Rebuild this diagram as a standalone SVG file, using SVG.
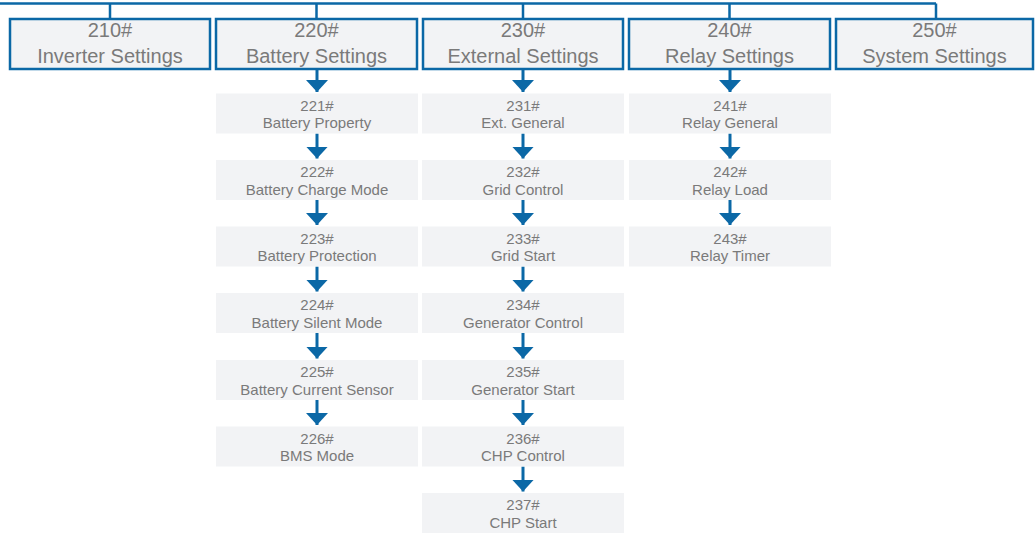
<svg xmlns="http://www.w3.org/2000/svg" width="1036" height="533" viewBox="0 0 1036 533">
<style>
.hb{fill:#f2f3f5;stroke:#0b68a6;stroke-width:2.5}
.sb{fill:#f2f3f5}
.ht{font-family:"Liberation Sans",Arial,sans-serif;font-size:20px;fill:#7a7a7a;text-anchor:middle}
.st{font-family:"Liberation Sans",Arial,sans-serif;font-size:15px;fill:#7a7a7a;text-anchor:middle}
.ln{stroke:#0b68a6;stroke-width:2.5;fill:none}
.ar{stroke:#0b68a6;stroke-width:3;fill:none;marker-end:url(#ah)}
</style>
<defs>
<marker id="ah" markerUnits="userSpaceOnUse" markerWidth="12" markerHeight="22" viewBox="0 0 12 22" refX="12" refY="11" orient="auto">
<path d="M0,0 L12,11 L0,22 z" fill="#0b68a6"/>
</marker>
</defs>
<g id="connectors">
<path class="ln" d="M0,3.5 H936 M110,3.5 V18 M316.5,3.5 V18 M523,3.5 V18 M729.5,3.5 V18 M936,3.5 V18"/>
<line class="ar" x1="317" y1="70" x2="317" y2="92"/>
<line class="ar" x1="317" y1="133.5" x2="317" y2="158.5"/>
<line class="ar" x1="317" y1="200" x2="317" y2="225"/>
<line class="ar" x1="317" y1="266.5" x2="317" y2="291.5"/>
<line class="ar" x1="317" y1="333" x2="317" y2="358.5"/>
<line class="ar" x1="317" y1="400" x2="317" y2="425"/>
<line class="ar" x1="523" y1="70" x2="523" y2="92"/>
<line class="ar" x1="523" y1="133.5" x2="523" y2="158.5"/>
<line class="ar" x1="523" y1="200" x2="523" y2="225"/>
<line class="ar" x1="523" y1="266.5" x2="523" y2="291.5"/>
<line class="ar" x1="523" y1="333" x2="523" y2="358.5"/>
<line class="ar" x1="523" y1="400" x2="523" y2="425"/>
<line class="ar" x1="523" y1="466.5" x2="523" y2="491.5"/>
<line class="ar" x1="730" y1="70" x2="730" y2="92"/>
<line class="ar" x1="730" y1="133.5" x2="730" y2="158.5"/>
<line class="ar" x1="730" y1="200" x2="730" y2="225"/>
</g>
<g id="n210"><rect class="hb" x="10" y="19" width="200" height="50"/><text class="ht" x="110" y="37">210#</text><text class="ht" x="110" y="63">Inverter Settings</text></g>
<g id="n220"><rect class="hb" x="216" y="19" width="201" height="50"/><text class="ht" x="316.5" y="37">220#</text><text class="ht" x="316.5" y="63">Battery Settings</text></g>
<g id="n230"><rect class="hb" x="423" y="19" width="200" height="50"/><text class="ht" x="523" y="37">230#</text><text class="ht" x="523" y="63">External Settings</text></g>
<g id="n240"><rect class="hb" x="629" y="19" width="201" height="50"/><text class="ht" x="729.5" y="37">240#</text><text class="ht" x="729.5" y="63">Relay Settings</text></g>
<g id="n250"><rect class="hb" x="836" y="19" width="197" height="50"/><text class="ht" x="934.5" y="37">250#</text><text class="ht" x="934.5" y="63">System Settings</text></g>

<g id="n221"><rect class="sb" x="216" y="93.5" width="202" height="40"/><text class="st" x="317" y="110.5">221#</text><text class="st" x="317" y="128">Battery Property</text></g>
<g id="n222"><rect class="sb" x="216" y="160" width="202" height="40"/><text class="st" x="317" y="177">222#</text><text class="st" x="317" y="194.5">Battery Charge Mode</text></g>
<g id="n223"><rect class="sb" x="216" y="226.5" width="202" height="40"/><text class="st" x="317" y="243.5">223#</text><text class="st" x="317" y="261">Battery Protection</text></g>
<g id="n224"><rect class="sb" x="216" y="293" width="202" height="40"/><text class="st" x="317" y="310">224#</text><text class="st" x="317" y="327.5">Battery Silent Mode</text></g>
<g id="n225"><rect class="sb" x="216" y="360" width="202" height="40"/><text class="st" x="317" y="377">225#</text><text class="st" x="317" y="394.5">Battery Current Sensor</text></g>
<g id="n226"><rect class="sb" x="216" y="426.5" width="202" height="40"/><text class="st" x="317" y="443.5">226#</text><text class="st" x="317" y="461">BMS Mode</text></g>

<g id="n231"><rect class="sb" x="422" y="93.5" width="202" height="40"/><text class="st" x="523" y="110.5">231#</text><text class="st" x="523" y="128">Ext. General</text></g>
<g id="n232"><rect class="sb" x="422" y="160" width="202" height="40"/><text class="st" x="523" y="177">232#</text><text class="st" x="523" y="194.5">Grid Control</text></g>
<g id="n233"><rect class="sb" x="422" y="226.5" width="202" height="40"/><text class="st" x="523" y="243.5">233#</text><text class="st" x="523" y="261">Grid Start</text></g>
<g id="n234"><rect class="sb" x="422" y="293" width="202" height="40"/><text class="st" x="523" y="310">234#</text><text class="st" x="523" y="327.5">Generator Control</text></g>
<g id="n235"><rect class="sb" x="422" y="360" width="202" height="40"/><text class="st" x="523" y="377">235#</text><text class="st" x="523" y="394.5">Generator Start</text></g>
<g id="n236"><rect class="sb" x="422" y="426.5" width="202" height="40"/><text class="st" x="523" y="443.5">236#</text><text class="st" x="523" y="461">CHP Control</text></g>
<g id="n237"><rect class="sb" x="422" y="493" width="202" height="40"/><text class="st" x="523" y="510">237#</text><text class="st" x="523" y="527.5">CHP Start</text></g>

<g id="n241"><rect class="sb" x="629" y="93.5" width="202" height="40"/><text class="st" x="730" y="110.5">241#</text><text class="st" x="730" y="128">Relay General</text></g>
<g id="n242"><rect class="sb" x="629" y="160" width="202" height="40"/><text class="st" x="730" y="177">242#</text><text class="st" x="730" y="194.5">Relay Load</text></g>
<g id="n243"><rect class="sb" x="629" y="226.5" width="202" height="40"/><text class="st" x="730" y="243.5">243#</text><text class="st" x="730" y="261">Relay Timer</text></g>
</svg>
